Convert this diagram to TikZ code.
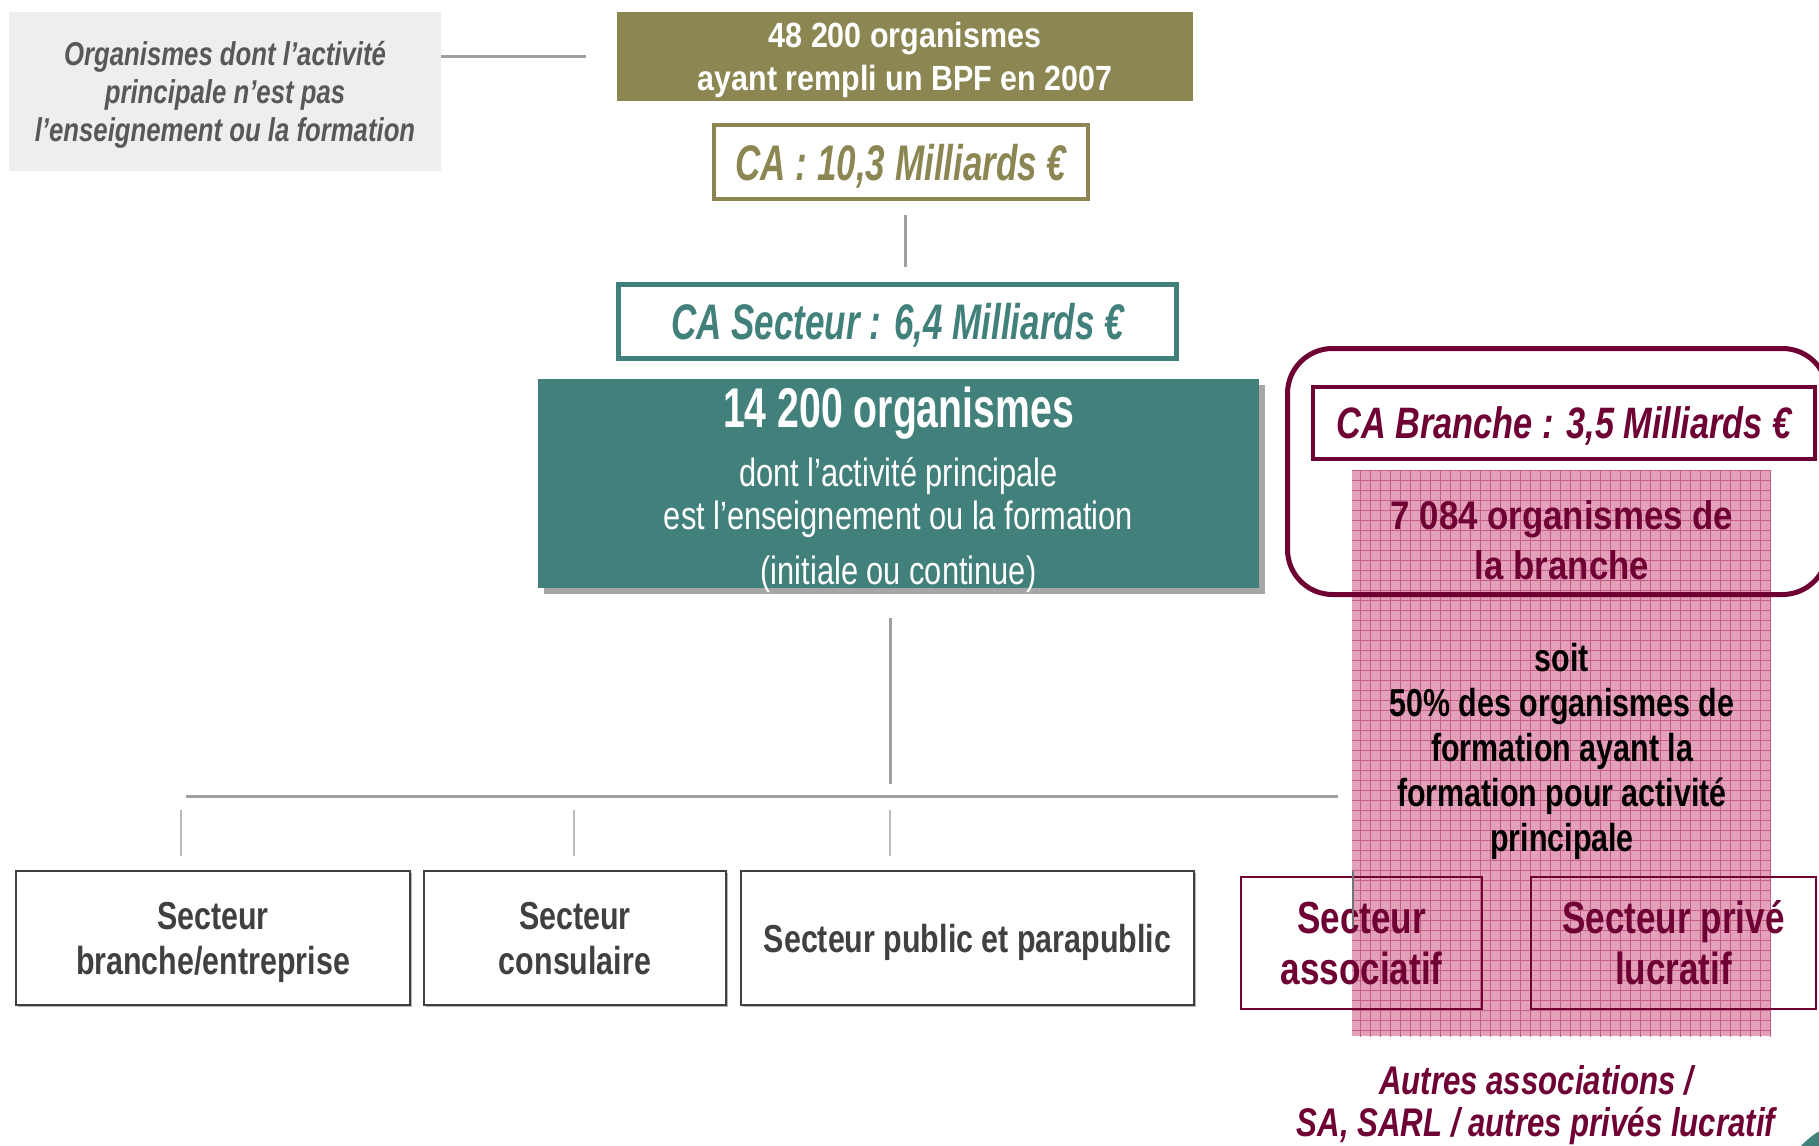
\documentclass[tikz,border=0pt]{standalone}
\usepackage{fontspec}
\setmainfont{Liberation Sans}
\newfontfamily\cnX{Liberation Sans}[FakeStretch=0.70]
\newfontfamily\cnY{Liberation Sans}[FakeStretch=0.78]
\newfontfamily\cnZ{Liberation Sans}[FakeStretch=0.87]
\usetikzlibrary{calc,shadows}

\definecolor{bpfolive}{RGB}{139,134,82}
\definecolor{secteal}{RGB}{66,128,123}
\definecolor{branchered}{RGB}{110,0,52}
\definecolor{greybg}{RGB}{238,238,238}
\definecolor{greytxt}{RGB}{88,88,88}
\definecolor{sectxt}{RGB}{64,64,64}
\definecolor{hatchpink}{RGB}{226,160,186}
\definecolor{hatchline}{RGB}{200,92,132}

\begin{document}
\begin{tikzpicture}[x=1pt, y=-1pt,
  link/.style={draw=gray!75, line width=3pt},
  tick/.style={draw=gray!55, line width=2pt},
  cabox/.style={fill=white, inner sep=0pt, text depth=0pt, font=\cnX\bfseries\itshape\fontsize{50}{55}\selectfont},
  sector/.style={draw=sectxt, line width=2pt, fill=white, minimum height=134pt, inner sep=0pt,
    align=center, text depth=0pt, text=sectxt, font=\cnY\bfseries\fontsize{39}{45}\selectfont,
    drop shadow={shadow xshift=2pt, shadow yshift=-2pt, fill=gray!60, opacity=1}},
  mainsector/.style={draw=branchered, line width=2pt, minimum height=132pt, inner sep=0pt,
    align=center, text=branchered, font=\cnY\bfseries\fontsize{45}{51}\selectfont}]
  \useasboundingbox (0,0) rectangle (1819,1145);

  % Zone hachuree de la branche
  \begin{scope}
    \fill[hatchpink] (1352,470) rectangle (1771,1036);
    \clip (1352,470) rectangle (1771,1036);
    \draw[hatchline, line width=0.6pt, step=10pt] (1350,1040) grid (1775,465);
  \end{scope}

  % Haut : ensemble des organismes
  \node[fill=greybg, minimum width=432pt, minimum height=159pt, inner sep=0pt, align=center,
    text depth=0pt, text=greytxt, font=\cnY\bfseries\itshape\fontsize{33}{38}\selectfont] (autres) at (225,91.5)
    {Organismes dont l’activité\\principale n’est pas\\l’enseignement ou la formation};
  \node[fill=bpfolive, minimum width=576pt, minimum height=89pt, inner sep=0pt, align=center,
    text depth=0pt, text=white, font=\cnZ\bfseries\fontsize{35}{43}\selectfont] (bpf) at (905,56.5)
    {48 200 organismes\\ayant rempli un BPF en 2007};
  \node[cabox, draw=bpfolive, line width=4pt, minimum width=374pt, minimum height=74pt,
    text=bpfolive] (ca) at (901,162) {CA : 10,3 Milliards €};
  \draw[link] (autres.east |- bpf.center) -- ++(145,0);
  \draw[link, shorten <=14pt, shorten >=15pt] (ca.south -| bpf.south) -- (bpf.south |- 0,282);

  % Secteur de la formation
  \node[cabox, draw=secteal, line width=5pt, minimum width=558pt, minimum height=74pt,
    text=secteal] (secteur) at (897.5,321.5) {CA Secteur : 6,4 Milliards €};
  \node[fill=secteal, minimum width=721pt, minimum height=209pt, inner sep=0pt,
    drop shadow={shadow xshift=6pt, shadow yshift=-6pt, fill=gray!70, opacity=1}] (org) at (898.5,483.5) {};
  \node[align=center, text=white, font=\cnY\fontsize{39.5}{43}\selectfont] (orgtext) at ($(org.center)+(0,6)$)
    {{\cnX\bfseries\fontsize{56}{43}\selectfont 14 200 organismes}\\[16pt]
     dont l’activité principale\\est l’enseignement ou la formation\\[12pt](initiale ou continue)};

  % Repartition par secteur
  \coordinate (busL) at (186,796);
  \coordinate (busR) at (1338,796);
  \coordinate (hub) at (890,796);
  \draw[link, shorten <=30pt, shorten >=12pt] (org.south -| hub) -- (hub);
  \draw[link] (busL) -- (busR);

  \node[sector, minimum width=394pt] (b1) at (213,938) {Secteur\\branche/entreprise};
  \node[sector, minimum width=302pt] (b2) at (575,938) {Secteur\\consulaire};
  \node[sector, minimum width=453pt] (b3) at (967.5,938) {Secteur public et parapublic};
  \foreach \b/\x in {b1/181, b2/574, b3/890}
    \draw[tick, shorten <=14pt, shorten >=14pt] (busL -| \x,0) -- (\b.north -| \x,0);

  \node[mainsector, minimum width=241pt] (assoc) at (1361.5,943) {Secteur\\associatif};
  \node[mainsector, minimum width=285pt] (prive) at (1673.5,943) {Secteur privé\\lucratif};
  \draw[line width=2pt, draw=gray!90!black] (assoc.north -| 1353,0) ++(0,-5) -- ++(0,56);

  % Branche
  \node[draw=branchered, line width=5pt, rounded corners=45pt, minimum width=540pt,
    minimum height=246pt] (branche) at (1557.5,471.5) {};
  \node[cabox, draw=branchered, line width=4pt, minimum width=502pt, minimum height=72pt,
    text=branchered, font=\cnY\bfseries\itshape\fontsize{44}{50}\selectfont] (cabr) at (1564,423)
    {CA Branche : 3,5 Milliards €};
  \node[align=center, text=branchered, font=\cnZ\bfseries\fontsize{40}{50}\selectfont] (nbbr) at (1562,540)
    {7 084 organismes de\\la branche};
  \node[align=center, font=\cnY\bfseries\fontsize{39}{45}\selectfont] (part) at (1562,751)
    {soit\\50\% des organismes de\\formation ayant la\\formation pour activité\\principale};
  \node[align=center, text=branchered, font=\cnY\bfseries\itshape\fontsize{40}{42}\selectfont] (detail) at (1536,1105)
    {Autres associations /\\SA, SARL / autres privés lucratif};

  \fill[secteal] (1860,1200) circle (80pt);
\end{tikzpicture}
\end{document}
